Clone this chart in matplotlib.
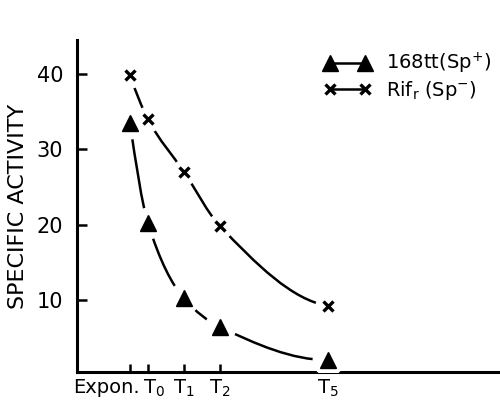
import numpy as np
import matplotlib
matplotlib.use('Agg')
import matplotlib.pyplot as plt
from matplotlib.path import Path
from matplotlib.patches import PathPatch
from matplotlib.lines import Line2D
import matplotlib.transforms as mtransforms

# time in hours relative to T0 (Expon. taken half an hour before)
times = [-0.5, 0, 1, 2, 5]
tick_labels = ['Expon.', r'$\mathregular{T_0}$', r'$\mathregular{T_1}$',
               r'$\mathregular{T_2}$', r'$\mathregular{T_5}$']
sp_plus = [33.5, 20.2, 10.2, 6.4, 2.0]      # 168tt (Sp+)
sp_minus = [39.8, 34.0, 27.0, 19.8, 9.2]    # Rif r (Sp-)


def smooth_path(xs, ys):
    # monotone cubic (fritsch-carlson) through the points, as bezier segments
    x = np.asarray(xs, float)
    y = np.asarray(ys, float)
    h = np.diff(x)
    d = np.diff(y) / h
    n = len(x)
    m = np.zeros(n)
    for i in range(1, n - 1):
        if d[i - 1] * d[i] > 0:
            w1 = 2 * h[i] + h[i - 1]
            w2 = h[i] + 2 * h[i - 1]
            m[i] = (w1 + w2) / (w1 / d[i - 1] + w2 / d[i])
    m[0] = ((2 * h[0] + h[1]) * d[0] - h[0] * d[1]) / (h[0] + h[1])
    if np.sign(m[0]) != np.sign(d[0]):
        m[0] = 0
    m[-1] = ((2 * h[-1] + h[-2]) * d[-1] - h[-1] * d[-2]) / (h[-1] + h[-2])
    if np.sign(m[-1]) != np.sign(d[-1]):
        m[-1] = 0
    verts = [(x[0], y[0])]
    codes = [Path.MOVETO]
    for i in range(n - 1):
        verts += [(x[i] + h[i] / 3, y[i] + m[i] * h[i] / 3),
                  (x[i + 1] - h[i] / 3, y[i + 1] - m[i + 1] * h[i] / 3),
                  (x[i + 1], y[i + 1])]
        codes += [Path.CURVE4] * 3
    return Path(verts, codes)


plt.rcParams['font.family'] = 'DejaVu Sans'
fig = plt.figure(figsize=(5.0, 4.01), dpi=100)
ax = fig.add_axes([0.154, 0.072, 0.846, 0.828])

for ys in (sp_plus, sp_minus):
    ax.add_patch(PathPatch(smooth_path(times, ys), fill=False,
                           edgecolor='black', lw=1.8, zorder=2))

# white blobs to break the curves around each point
ax.plot(times, sp_plus, 'o', ms=22, color='white', zorder=3)
ax.plot(times, sp_minus, 'o', ms=18, color='white', zorder=3)
ax.plot(times, sp_plus, '^', ms=11, color='black', zorder=4)
ax.plot(times, sp_minus, 'x', ms=7, mew=2.4, color='black', zorder=4)

ax.set_xlim(-1.97, 9.78)
ax.set_ylim(0.4, 44.5)

for s in ['top', 'right']:
    ax.spines[s].set_visible(False)
for s in ['left', 'bottom']:
    ax.spines[s].set_linewidth(2.2)

ax.set_yticks([10, 20, 30, 40])
ax.set_xticks(times)
ax.set_xticklabels(tick_labels)
ax.tick_params(axis='y', direction='in', length=7, width=1.8, labelsize=15, pad=10)
ax.tick_params(axis='x', direction='in', length=6, width=1.8, labelsize=14, pad=4)

lab = ax.get_xticklabels()
lab[0].set_horizontalalignment('right')
lab[0].set_transform(lab[0].get_transform() +
                     mtransforms.ScaledTranslation(10 / 100, 0, fig.dpi_scale_trans))
lab[1].set_transform(lab[1].get_transform() +
                     mtransforms.ScaledTranslation(6 / 100, 0, fig.dpi_scale_trans))

ax.set_ylabel('SPECIFIC ACTIVITY', fontsize=16, labelpad=6)

handles = [
    Line2D([], [], color='black', lw=1.8, marker='^', ms=11),
    Line2D([], [], color='black', lw=1.8, marker='x', ms=7, mew=2.4),
]
labels = [r'168tt$\mathregular{(Sp^{+})}$', r'Rif$\mathregular{_r}$ $\mathregular{(Sp^{-})}$']
ax.legend(handles, labels, numpoints=2, frameon=False, fontsize=14,
          handlelength=2.4, handletextpad=0.8, labelspacing=0.15,
          loc='upper right', bbox_to_anchor=(1.02, 1.02))

fig.savefig('out.png', dpi=100)
